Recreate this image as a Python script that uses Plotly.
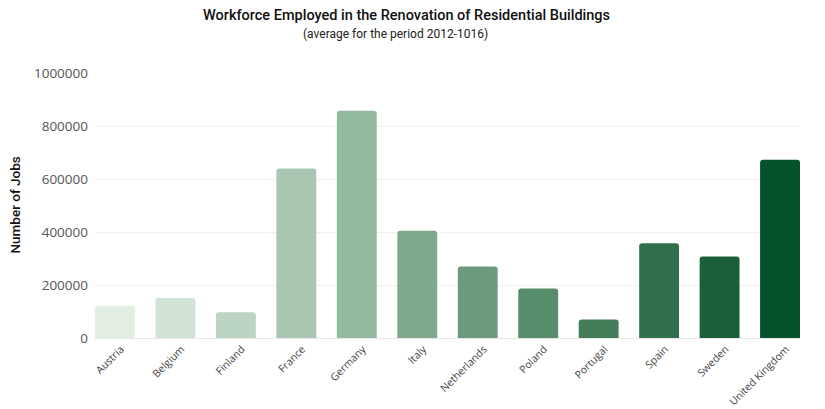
import plotly.graph_objects as go

countries = ['Austria', 'Belgium', 'Finland', 'France', 'Germany', 'Italy',
             'Netherlands', 'Poland', 'Portugal', 'Spain', 'Sweden', 'United Kingdom']
jobs = [122000, 151000, 97000, 640000, 858000, 405000,
        270000, 187000, 70000, 358000, 308000, 673000]
bar_colors = ['#e3efe3', '#d0e3d4', '#bcd5c2', '#a8c6b1', '#93b99f', '#7fa98b',
              '#6b9b7c', '#578d6a', '#437e59', '#2f6f4a', '#1a5f38', '#05532a']
y_ticks = [0, 200000, 400000, 600000, 800000, 1000000]

# the page body has an 8px margin, so the figure is 8px smaller each way
W, H = 817, 401
left, right, top, bottom = 87, 25, 65, 71
plot_w = W - left - right
plot_h = H - top - bottom

fig = go.Figure(go.Bar(
    x=countries,
    y=jobs,
    marker=dict(color=bar_colors, line=dict(width=0), cornerradius=3),
    width=0.66,
))

fig.update_layout(
    width=W, height=H,
    margin=dict(l=left, r=right, t=top, b=bottom),
    paper_bgcolor='white', plot_bgcolor='white',
    showlegend=False,
    font=dict(family='Open Sans', color='#444'),
    annotations=[
        dict(text='Workforce Employed in the Renovation of Residential Buildings',
             x=(398 - left) / plot_w, y=1 + (top - 7) / plot_h,
             xref='paper', yref='paper', showarrow=False, yanchor='middle',
             font=dict(family='Roboto', size=14.5, color='#111', weight=500)),
        dict(text='(average for the period 2012-1016)',
             x=(387 - left) / plot_w, y=1 + (top - 26) / plot_h,
             xref='paper', yref='paper', showarrow=False, yanchor='middle',
             font=dict(family='Roboto', size=12, color='#222')),
        dict(text='Number of Jobs', textangle=-90,
             x=(6 - left) / plot_w, y=0.5,
             xref='paper', yref='paper', showarrow=False, xanchor='center',
             font=dict(family='Roboto', size=13.5, color='#111', weight=500)),
    ],
)

fig.update_xaxes(
    range=[-0.33, 11.33],
    tickangle=-45,
    tickfont=dict(family='Open Sans', size=10.5, color='#444'),
    ticklabelshift=6, ticklabelstandoff=0,
    showgrid=False,
    showline=True, linecolor='#e6e6e6', linewidth=1,
    ticks='', automargin=False,
)
fig.update_yaxes(
    range=[0, 1000000],
    tickvals=y_ticks,
    ticktext=[str(v) for v in y_ticks],
    tickfont=dict(family='Open Sans', size=13.5, color='#555'),
    gridcolor='#efefef', gridwidth=1,
    zeroline=False,
    ticks='', ticklabelstandoff=6, automargin=False,
)

fig.write_html('out.html')
